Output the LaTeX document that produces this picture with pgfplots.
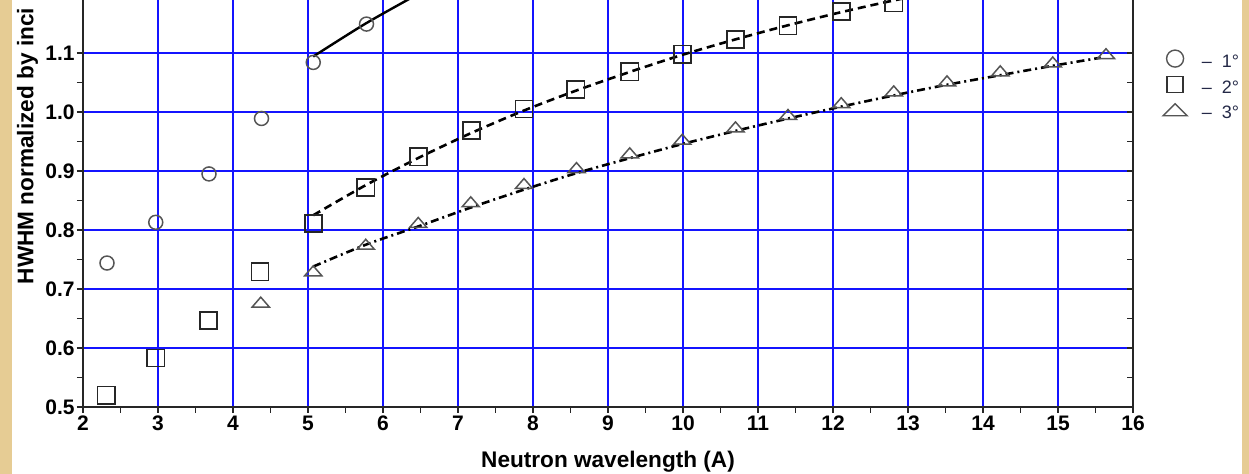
\documentclass[border=0pt]{standalone}
\usepackage{pgfplots}
\pgfplotsset{compat=1.18}
\usepackage{fontspec}
\setmainfont{Liberation Sans}
\definecolor{beige}{RGB}{230,204,148}
\definecolor{gridblue}{RGB}{20,20,255}
\definecolor{legtext}{RGB}{35,40,70}
\definecolor{mkgray}{RGB}{85,85,85}
\begin{document}
\begin{tikzpicture}
\useasboundingbox (0,0) rectangle (624.5pt,237pt);
\fill[beige] (0,0) rectangle (624.5pt,237pt);
\fill[white] (6pt,0) rectangle (621pt,237pt);
\begin{axis}[
  at={(41.5pt,33.5pt)}, anchor=south west,
  scale only axis, width=525pt, height=203.55pt,
  xmin=2, xmax=16, ymin=0.5, ymax=1.19,
  axis x line*=bottom, axis y line*=left,
  axis line style={line width=1pt, black!85},
  xtick={2,3,...,16}, ytick={0.5,0.6,...,1.1},
  minor x tick num=1, minor y tick num=1,
  tick align=outside, major tick length=3pt, minor tick length=3pt,
  tick style={line width=0.8pt, black!85},
  grid=major, major grid style={gridblue, line width=1pt},
  /pgf/number format/assume math mode=true,
  x tick label style={inner sep=1.2pt, /pgf/number format/.cd, fixed, precision=0},
  y tick label style={inner sep=1pt, /pgf/number format/.cd, fixed, fixed zerofill, precision=1},
  tick label style={font=\fontsize{10.5}{12}\selectfont\bfseries},
  xlabel={Neutron wavelength (A)},
  xlabel style={font=\fontsize{11.3}{13}\selectfont\bfseries, at={(axis description cs:0.5,0)}, anchor=base, yshift=-30.25pt},
  ylabel={HWHM normalized by inci},
  ylabel style={font=\fontsize{11.3}{13}\selectfont\bfseries, at={(axis description cs:0,1)}, anchor=base east, yshift=24.75pt, xshift=-0.5pt},
  clip=true,
  legend style={draw=none, fill=none, inner sep=0pt, at={(axis description cs:1.0276,0.8794)}, anchor=north west,
    font=\fontsize{9}{11}\selectfont, text=legtext, row sep=0pt, column sep=7pt,
    nodes={inner sep=0pt, text height=8pt, text depth=4.5pt}},
  legend cell align=left,
]
% circles 1 deg
\addplot[only marks, mark=o, mark size=3.5pt, mark options={draw=mkgray, line width=0.75pt, fill=none},
  legend image code/.code={\draw[mkgray, line width=0.7pt] (6pt,2.5pt) circle (4.25pt);}]
  coordinates {(2.32,0.744) (2.97,0.813) (3.68,0.895) (4.38,0.989) (5.07,1.084) (5.78,1.149)};
\addlegendentry{–\ \ 1°}
% squares 2 deg
\addplot[only marks, mark=square, mark size=4.3pt, mark options={draw=black!85, line width=0.85pt, fill=none},
  legend image code/.code={\draw[black!80, line width=0.7pt] (2pt,-1.5pt) rectangle (10pt,6.5pt);}]
  coordinates {(2.31,0.520) (2.97,0.583) (3.67,0.647) (4.36,0.729) (5.07,0.811) (5.77,0.872) (6.47,0.924)
   (7.18,0.969) (7.88,1.005) (8.57,1.038) (9.29,1.068) (9.99,1.098) (10.70,1.123) (11.40,1.146)
   (12.11,1.170) (12.81,1.185) (13.52,1.196)};
\addlegendentry{–\ \ 2°}
% triangles 3 deg
\addplot[only marks, mark=triangle, mark size=3.3pt, mark options={draw=mkgray, line width=0.75pt, fill=none, xscale=1.5},
  legend image code/.code={\draw[mkgray, line width=0.7pt] (0pt,-0.5pt) -- (12pt,-0.5pt) -- (6pt,5.5pt) -- cycle;}]
  coordinates {(4.37,0.675) (5.07,0.728) (5.77,0.773) (6.47,0.810) (7.17,0.845) (7.88,0.876) (8.58,0.903)
   (9.29,0.928) (9.99,0.951) (10.70,0.972) (11.40,0.993) (12.11,1.013) (12.81,1.033) (13.52,1.050)
   (14.23,1.067) (14.93,1.082) (15.64,1.096)};
\addlegendentry{–\ \ 3°}
% fit lines
\addplot[forget plot, black, line width=1.2pt, smooth] coordinates {(5.07,1.094) (5.77,1.150) (6.47,1.200)};
\addplot[forget plot, black, line width=1.3pt, dash pattern=on 4pt off 2.5pt, smooth]
  coordinates {(5.07,0.825) (5.77,0.876) (6.47,0.922) (7.17,0.964) (7.87,1.002) (8.57,1.036) (9.27,1.067)
   (9.97,1.096) (10.67,1.122) (11.37,1.146) (12.07,1.168) (12.77,1.188) (13.47,1.206)};
\addplot[forget plot, black, line width=1.3pt, dash pattern=on 4pt off 2pt on 1pt off 2pt, smooth]
  coordinates {(5.07,0.738) (5.77,0.775) (6.47,0.806) (7.17,0.838) (7.87,0.868) (8.57,0.896) (9.27,0.921)
   (9.97,0.945) (10.67,0.967) (11.37,0.988) (12.07,1.008) (12.77,1.027) (13.47,1.045) (14.17,1.061)
   (14.87,1.077) (15.57,1.092)};
\end{axis}
\begin{axis}[
  at={(41.5pt,33.5pt)}, anchor=south west,
  scale only axis, width=525pt, height=203.55pt,
  xmin=2, xmax=16, ymin=0.5, ymax=1.19,
  axis x line=none, axis y line*=right,
  axis line style={line width=1pt, black!85},
  ytick={0.5,0.6,...,1.1}, yticklabels={},
  minor y tick num=1, tick align=inside,
  major tick length=3pt, minor tick length=3pt,
  tick style={line width=0.8pt, black!85},
]
\addplot[draw=none, forget plot] coordinates {(2,0.5) (16,1.19)};
\end{axis}
\end{tikzpicture}
\end{document}
